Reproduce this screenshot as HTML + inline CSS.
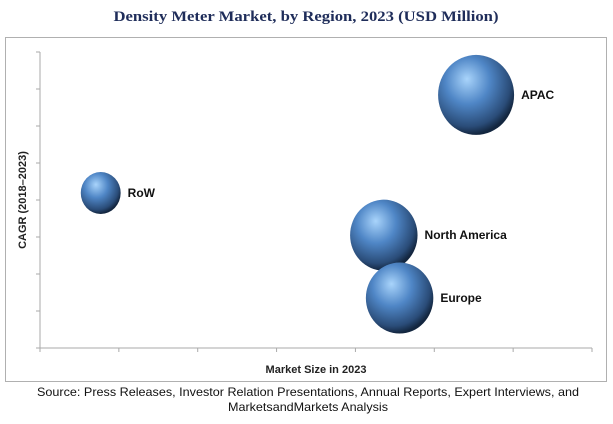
<!DOCTYPE html>
<html><head><meta charset="utf-8"><style>
body{margin:0;background:#fff;width:613px;height:419px;overflow:hidden;font-family:"Liberation Sans",sans-serif}
</style></head><body>
<svg width="613" height="419">
<defs>
<radialGradient id="g" cx="0.4" cy="0.35" r="0.65" fx="0.38" fy="0.3">
<stop offset="0" stop-color="#a9d4fb"/><stop offset="0.45" stop-color="#4f86c6"/><stop offset="0.85" stop-color="#2a4c78"/><stop offset="1" stop-color="#13263f"/>
</radialGradient>
</defs>
<text x="306" y="21" text-anchor="middle" font-family="Liberation Serif,serif" font-weight="bold" font-size="15" fill="#1f2d5a" textLength="385" lengthAdjust="spacingAndGlyphs">Density Meter Market, by Region, 2023 (USD Million)</text>
<rect x="5.5" y="37.5" width="601" height="344" fill="none" stroke="#b0b0b0"/>
<g id="axes"></g>
<g id="bubbles"></g>
<text x="316" y="373" text-anchor="middle" font-weight="bold" font-size="11" fill="#222">Market Size in 2023</text>
<text transform="translate(26,200) rotate(-90)" text-anchor="middle" font-weight="bold" font-size="11" fill="#222">CAGR (2018–2023)</text>
<text x="308" y="396" text-anchor="middle" font-size="12" fill="#111" textLength="542" lengthAdjust="spacingAndGlyphs">Source: Press Releases, Investor Relation Presentations, Annual Reports, Expert Interviews, and</text>
<text x="308" y="411" text-anchor="middle" font-size="12" fill="#111" textLength="160" lengthAdjust="spacingAndGlyphs">MarketsandMarkets Analysis</text>
</svg>
<script>
const regions=["APAC","RoW","North America","Europe"];
const marketSize=[5.53,0.77,4.36,4.56];
const cagr=[6.84,4.19,3.05,1.35];
const bubbleSize=[40,21,35.5,35.5];
const xTicks=[0,1,2,3,4,5,6,7];
const yTicks=[0,1,2,3,4,5,6,7,8];
const X0=40,X1=592,Y0=348,Y1=52;
const sx=v=>X0+(v-xTicks[0])/(xTicks[xTicks.length-1]-xTicks[0])*(X1-X0);
const sy=v=>Y0-(v-yTicks[0])/(yTicks[yTicks.length-1]-yTicks[0])*(Y0-Y1);
const NS="http://www.w3.org/2000/svg";
const ax=document.getElementById('axes');
function mk(t,a,p){const e=document.createElementNS(NS,t);for(const k in a)e.setAttribute(k,a[k]);p.appendChild(e);return e;}
let l=mk('line',{x1:X0,y1:Y0,x2:X1,y2:Y0,stroke:'#aaa'},ax);


l=mk('line',{x1:X0,y1:Y0,x2:X0,y2:Y1,stroke:'#aaa'},ax);


xTicks.forEach(t=>{const e=mk('line',{x1:sx(t),y1:Y0,x2:sx(t),y2:Y0+4,stroke:'#aaa'},ax);

});
yTicks.forEach(t=>{const e=mk('line',{x1:X0-4,y1:sy(t),x2:X0,y2:sy(t),stroke:'#aaa'},ax);

});
const bg=document.getElementById('bubbles');
regions.forEach((r,i)=>{
const cx=sx(marketSize[i]),cy=sy(cagr[i]),rr=bubbleSize[i];
const e=mk('ellipse',{cx:cx,cy:cy,rx:rr*0.95,ry:rr,fill:'url(#g)'},bg);


const t=mk('text',{x:cx+rr*0.95+7,y:cy+4,'font-weight':'bold','font-size':'12',fill:'#111'},bg);
t.textContent=r;


});
</script>
</body></html>
